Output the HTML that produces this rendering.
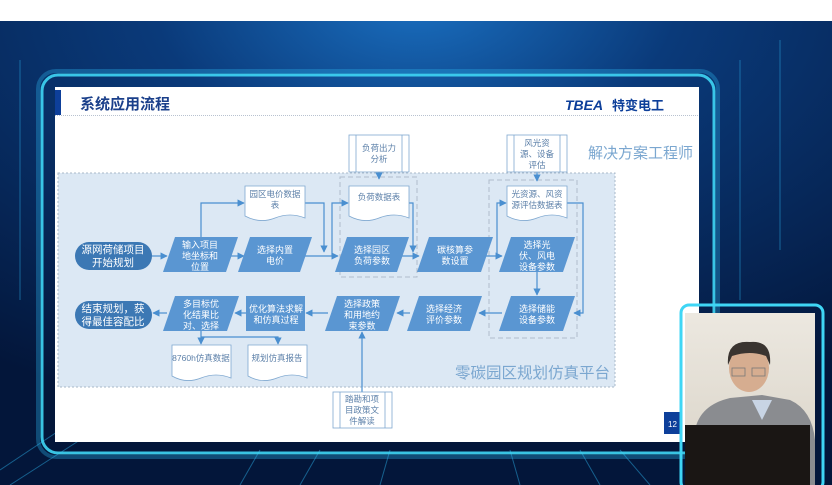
<!DOCTYPE html>
<html><head><meta charset="utf-8"><style>
html,body{margin:0;padding:0;width:832px;height:485px;overflow:hidden;background:#fff}
svg{display:block}
text{font-family:"Liberation Sans","Noto Sans CJK SC",sans-serif}
</style></head><body>
<svg width="832" height="485" viewBox="0 0 832 485" xmlns="http://www.w3.org/2000/svg">
<defs>
<radialGradient id="bg" cx="0.5" cy="0" r="0.9">
<stop offset="0" stop-color="#1a6fc0"/><stop offset="0.35" stop-color="#0a3a7a"/><stop offset="1" stop-color="#03163a"/>
</radialGradient>
<radialGradient id="spot" cx="0.5" cy="0" r="0.5">
<stop offset="0" stop-color="#d0f0ff" stop-opacity="1"/><stop offset="0.4" stop-color="#5ab8ff" stop-opacity="0.6"/><stop offset="1" stop-color="#3aa0ff" stop-opacity="0"/>
</radialGradient>
<marker id="a" viewBox="0 0 10 10" refX="9" refY="5" markerWidth="6" markerHeight="6" orient="auto"><path d="M0,0L10,5L0,10z" fill="#4a8fd0"/></marker>
<linearGradient id="wall" x1="0" y1="0" x2="0" y2="1"><stop offset="0" stop-color="#ece8e0"/><stop offset="1" stop-color="#d8d2c6"/></linearGradient>
</defs>
<rect x="0" y="0" width="832" height="485" fill="url(#bg)"/>
<ellipse cx="420" cy="21" rx="150" ry="120" fill="url(#spot)"/>
<rect x="0" y="0" width="832" height="21" fill="#fff"/>
<g stroke="#2aa8e0" stroke-width="1" opacity="0.5">
<line x1="0" y1="470" x2="60" y2="430"/><line x1="10" y1="485" x2="80" y2="440"/><line x1="240" y1="485" x2="260" y2="450"/><line x1="300" y1="485" x2="320" y2="450"/><line x1="380" y1="485" x2="390" y2="450"/><line x1="520" y1="485" x2="510" y2="450"/><line x1="600" y1="485" x2="580" y2="450"/><line x1="650" y1="485" x2="620" y2="450"/>
<line x1="740" y1="60" x2="740" y2="300"/><line x1="780" y1="40" x2="780" y2="250"/><line x1="20" y1="60" x2="20" y2="300"/>
</g>
<rect x="42" y="75" width="672" height="378" rx="16" fill="none" stroke="#3fd6f5" stroke-width="3" opacity="0.9"/>
<rect x="38" y="71" width="680" height="386" rx="18" fill="none" stroke="#2ab0e8" stroke-width="4" opacity="0.35"/>
<rect x="55" y="87" width="644" height="355" fill="#fff"/>
<rect x="55" y="90" width="6" height="25" fill="#0d3f9a"/>
<text x="80" y="109" font-size="15" font-weight="bold" fill="#1a3f8a">系统应用流程</text>
<line x1="55" y1="115.5" x2="699" y2="115.5" stroke="#b8c2d0" stroke-width="1" stroke-dasharray="1,1"/>
<text x="565" y="110" font-size="14" font-weight="bold" font-style="italic" fill="#0d3f9a">TBEA</text>
<text x="612" y="110" font-size="13" font-weight="bold" fill="#0d3f9a">特变电工</text>
<text x="588" y="158" font-size="15" fill="#7ba7d0">解决方案工程师</text>
<rect x="58" y="173" width="557" height="214" fill="#dce8f4" stroke="#a8b8c8" stroke-dasharray="2,2"/>
<text x="455" y="378" font-size="15.5" fill="#7ba7d0">零碳园区规划仿真平台</text>
<rect x="340" y="177" width="77" height="100" fill="none" stroke="#b0bccb" stroke-dasharray="5,3"/>
<rect x="489" y="180" width="88" height="158" fill="none" stroke="#b0bccb" stroke-dasharray="5,3"/>
<g stroke="#4a8fd0" stroke-width="1.2" fill="none">
<path d="M152 256H167" marker-end="url(#a)"/>
<path d="M228 256H244" marker-end="url(#a)"/>
<path d="M201 237V203H244" marker-end="url(#a)"/>
<path d="M305 203H324V252" marker-end="url(#a)"/>
<path d="M303 256H338" marker-end="url(#a)"/>
<path d="M332 256V203H348" marker-end="url(#a)"/>
<path d="M409 203H413V252" marker-end="url(#a)"/>
<path d="M400 256H419" marker-end="url(#a)"/>
<path d="M484 256H502" marker-end="url(#a)"/>
<path d="M497 256V203H506" marker-end="url(#a)"/>
<path d="M567 203H583V313H574" marker-end="url(#a)"/>
<path d="M537 272V295" marker-end="url(#a)"/>
<path d="M502 313H479" marker-end="url(#a)"/>
<path d="M410 313H397" marker-end="url(#a)"/>
<path d="M328 313H306" marker-end="url(#a)"/>
<path d="M246 313H235" marker-end="url(#a)"/>
<path d="M167 313H153" marker-end="url(#a)"/>
<path d="M201 331V344" marker-end="url(#a)"/>
<path d="M201 337H278V344" marker-end="url(#a)"/>
<path d="M362 392V332" marker-end="url(#a)"/>
<path d="M379 172V179" marker-end="url(#a)"/>
<path d="M537 172V181" marker-end="url(#a)"/>
</g>
<g fill="#3c78b4">
<rect x="75" y="242" width="77" height="28" rx="14"/>
<rect x="75" y="301" width="77" height="28" rx="14"/>
</g>
<g fill="#fff" font-size="10.5" text-anchor="middle">
<text x="113" y="253">源网荷储项目</text><text x="113" y="266">开始规划</text>
<text x="113" y="312">结束规划，获</text><text x="113" y="325">得最佳容配比</text>
</g>
<g fill="#5a96d2">
<polygon points="175,237 238,237 226,272 163,272"/>
<polygon points="250,237 312,237 300,272 238,272"/>
<polygon points="347,237 409,237 397,272 335,272"/>
<polygon points="429,237 493,237 481,272 417,272"/>
<polygon points="511,237 575,237 563,272 499,272"/>
<polygon points="511,296 575,296 563,331 499,331"/>
<polygon points="419,296 482,296 470,331 407,331"/>
<polygon points="337,296 400,296 388,331 325,331"/>
<rect x="246" y="296" width="59" height="35"/>
<polygon points="175,296 239,296 227,331 163,331"/>
</g>
<g fill="#fff" font-size="9" text-anchor="middle">
<text x="200" y="248">输入项目</text><text x="200" y="259">地坐标和</text><text x="200" y="270">位置</text>
<text x="275" y="253">选择内置</text><text x="275" y="264">电价</text>
<text x="372" y="253">选择园区</text><text x="372" y="264">负荷参数</text>
<text x="455" y="253">碳核算参</text><text x="455" y="264">数设置</text>
<text x="537" y="248">选择光</text><text x="537" y="259">伏、风电</text><text x="537" y="270">设备参数</text>
<text x="537" y="312">选择储能</text><text x="537" y="323">设备参数</text>
<text x="444" y="312">选择经济</text><text x="444" y="323">评价参数</text>
<text x="362" y="307">选择政策</text><text x="362" y="318">和用地约</text><text x="362" y="329">束参数</text>
<text x="276" y="312">优化算法求解</text><text x="276" y="323">和仿真过程</text>
<text x="201" y="307">多目标优</text><text x="201" y="318">化结果比</text><text x="201" y="329">对、选择</text>
</g>
<g fill="#fff" stroke="#7fa8d0" stroke-width="0.8">
<path d="M245 186H305V218Q290 212 275 218T245 216Z"/>
<path d="M349 186H409V218Q394 212 379 218T349 216Z"/>
<path d="M507 186H567V218Q552 212 537 218T507 216Z"/>
<path d="M172 345H231V378Q216 372 201 378T172 376Z"/>
<path d="M248 345H307V378Q292 372 277 378T248 376Z"/>
</g>
<g fill="#5b7fa8" font-size="8.5" text-anchor="middle">
<text x="275" y="197">园区电价数据</text><text x="275" y="208">表</text>
<text x="379" y="200">负荷数据表</text>
<text x="537" y="197">光资源、风资</text><text x="537" y="208">源评估数据表</text>
<text x="201" y="361">8760h仿真数据</text>
<text x="277" y="361">规划仿真报告</text>
</g>
<g fill="#fff" stroke="#7fa8d0" stroke-width="0.8">
<rect x="349" y="135" width="60" height="37"/><line x1="356" y1="135" x2="356" y2="172"/><line x1="402" y1="135" x2="402" y2="172"/>
<rect x="507" y="135" width="60" height="37"/><line x1="514" y1="135" x2="514" y2="172"/><line x1="560" y1="135" x2="560" y2="172"/>
<rect x="333" y="392" width="59" height="36"/><line x1="340" y1="392" x2="340" y2="428"/><line x1="385" y1="392" x2="385" y2="428"/>
</g>
<g fill="#5b7fa8" font-size="8.5" text-anchor="middle">
<text x="379" y="151">负荷出力</text><text x="379" y="162">分析</text>
<text x="537" y="146">风光资</text><text x="537" y="157">源、设备</text><text x="537" y="168">评估</text>
<text x="362" y="402">踏勘和项</text><text x="362" y="413">目政策文</text><text x="362" y="424">件解读</text>
</g>
<rect x="664" y="412" width="17" height="22" fill="#0d3f9a"/>
<text x="672.5" y="427" font-size="8" fill="#fff" text-anchor="middle">12</text>
<rect x="681" y="305" width="142" height="185" rx="8" fill="none" stroke="#3fd6f5" stroke-width="3"/>
<rect x="685" y="313" width="130" height="172" fill="url(#wall)"/>
<path d="M695 430Q700 405 730 398L762 395L790 400Q812 410 815 440V485H695Z" fill="#8a8c90"/>
<path d="M752 400L762 420L772 400Z" fill="#c8d4e4"/>
<ellipse cx="749" cy="368" rx="20" ry="24" fill="#d6ad90"/>
<path d="M728 365Q726 340 750 342Q772 340 770 365L766 356Q750 350 732 356Z" fill="#3a3430"/>
<rect x="732" y="368" width="13" height="8" fill="none" stroke="#777" stroke-width="0.8"/>
<rect x="752" y="368" width="13" height="8" fill="none" stroke="#777" stroke-width="0.8"/>
<rect x="685" y="425" width="125" height="60" fill="#1a1614"/>
</svg>
</body></html>
